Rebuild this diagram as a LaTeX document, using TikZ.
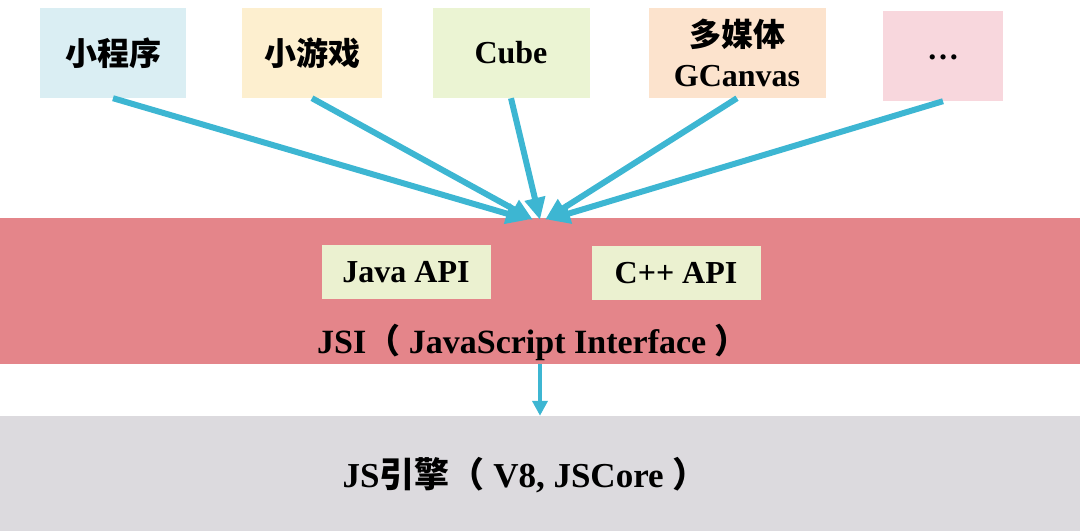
\documentclass[tikz,border=0pt]{standalone}
\usepackage{fontspec}
\setmainfont{Liberation Serif}
\newfontfamily\cjk{Noto Sans CJK SC}
\usetikzlibrary{arrows.meta}
\definecolor{appblue}{RGB}{218,238,243}
\definecolor{appyellow}{RGB}{253,239,207}
\definecolor{appgreen}{RGB}{235,244,211}
\definecolor{apppeach}{RGB}{252,227,205}
\definecolor{apppink}{RGB}{248,215,221}
\definecolor{jsired}{RGB}{228,133,138}
\definecolor{apibox}{RGB}{235,241,208}
\definecolor{enginegray}{RGB}{220,218,222}
\definecolor{linkblue}{RGB}{61,182,210}

\begin{document}
\begin{tikzpicture}[x=1pt,y=-1pt,
 every node/.style={font=\bfseries\fontsize{32}{40}\selectfont,inner sep=0pt},
 app/.style={minimum width=#1,minimum height=90pt},
 api/.style={fill=apibox,minimum width=169pt,minimum height=54pt},
 band/.style={minimum width=1080pt,minimum height=#1},
 link/.style={linkblue,line width=6pt,-{Triangle[length=22pt,width=20pt]}},
 down/.style={linkblue,line width=4pt,-{Triangle[length=15pt,width=15pt]}}]
\useasboundingbox (0,0) rectangle (1080,531);
 % bands
 \node[band=146pt,fill=jsired] (jsi) at (540,291) {};
 \node[band=115pt,fill=enginegray] (js) at (540,473.5) {};
 % top row
 \node[app=146pt,fill=appblue] (xcx) at (113,53) {\cjk 小程序};
 \node[app=140pt,fill=appyellow] (xyx) at (312,53) {\cjk 小游戏};
 \node[app=157pt,fill=appgreen] (cube) at (511,53) {Cube};
 \node[app=177pt,fill=apppeach,align=center] (dmt) at (737,53)
  {{\cjk 多媒体}\\GCanvas};
 \node[app=120pt,fill=apppink] (more) at (943,56) {\raisebox{-8pt}{\dots}};
 % api boxes
 \node[api] (java) at (406,272) {Java API};
 \node[api] (cpp) at (676,273) {C++ API};
 \node[font=\bfseries\fontsize{34}{40}\selectfont] (jsitext) at (533,342)
  {JSI{\cjk （}\ JavaScript Interface\ {\cjk ）}};
 \node[font=\bfseries\fontsize{35}{40}\selectfont] (jstext) at (525,475)
  {JS{\cjk 引擎（}\ V8, JSCore\ {\cjk ）}};
 % arrows
 \draw[link] (xcx.south) -- ([xshift=-12pt,yshift=-2pt]jsi.north);
 \draw[link] (xyx.south) -- ([xshift=-7pt,yshift=-2pt]jsi.north);
 \draw[link] (cube.south) -- ([xshift=0pt,yshift=-2pt]jsi.north);
 \draw[link] (dmt.south) -- ([xshift=5pt,yshift=-2pt]jsi.north);
 \draw[link] (more.south) -- ([xshift=8pt,yshift=-2pt]jsi.north);
 \draw[down] (jsi.south) -- (js.north);
\end{tikzpicture}
\end{document}
